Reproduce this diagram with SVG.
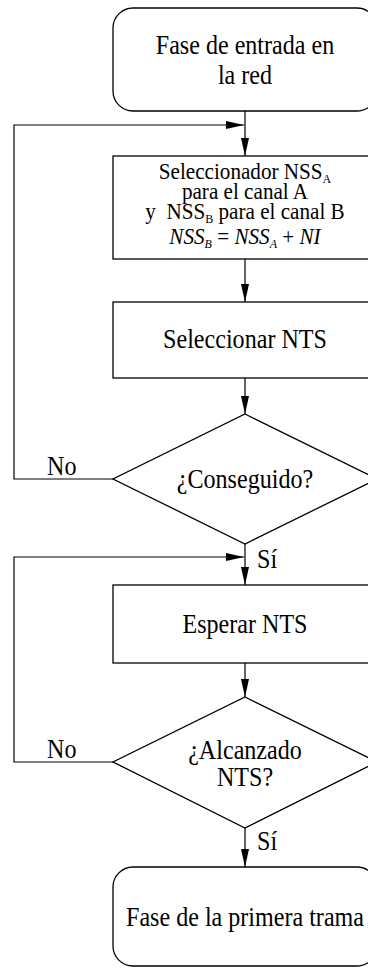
<svg xmlns="http://www.w3.org/2000/svg" width="368" height="968" viewBox="0 0 368 968">
<style>
.shape{fill:#fff;stroke:#000;stroke-width:1.3}
.conn{fill:none;stroke:#000;stroke-width:1.2}
.t{font-family:"Liberation Serif","Times New Roman",serif;font-size:28px;fill:#000;text-anchor:middle}
.s{font-family:"Liberation Serif","Times New Roman",serif;font-size:23px;fill:#000;text-anchor:middle}
.lbl{font-family:"Liberation Serif","Times New Roman",serif;font-size:28px;fill:#000}
.it{font-style:italic}
.sub{font-size:13px}
</style>
<defs>
<marker id="arr" markerUnits="userSpaceOnUse" markerWidth="18" markerHeight="8" refX="18" refY="4" orient="auto">
<path d="M0,0 L18,4 L0,8 z" fill="#000"/>
</marker>
</defs>
<rect width="368" height="968" fill="#fff"/>
<g id="connectors">
<line class="conn" x1="245" y1="111" x2="245" y2="156" marker-end="url(#arr)"/>
<line class="conn" x1="245" y1="259" x2="245" y2="302" marker-end="url(#arr)"/>
<line class="conn" x1="245" y1="378" x2="245" y2="414" marker-end="url(#arr)"/>
<line class="conn" x1="245" y1="544" x2="245" y2="585" marker-end="url(#arr)"/>
<line class="conn" x1="245" y1="663" x2="245" y2="697" marker-end="url(#arr)"/>
<line class="conn" x1="245" y1="828" x2="245" y2="867" marker-end="url(#arr)"/>
<path class="conn" d="M113,479 H14 V125 H244" marker-end="url(#arr)"/>
<path class="conn" d="M113,762 H14 V557 H244" marker-end="url(#arr)"/>
<text class="lbl" transform="translate(47,475) scale(0.86,1)">No</text>
<text class="lbl" transform="translate(47,758) scale(0.86,1)">No</text>
<text class="lbl" transform="translate(257,568) scale(0.86,1)">Sí</text>
<text class="lbl" transform="translate(257,850) scale(0.86,1)">Sí</text>
</g>
<g id="start">
<rect class="shape" x="113" y="8" width="264" height="103" rx="20" ry="20"/>
<text class="t" transform="translate(245,54) scale(0.86,1)">Fase de entrada en</text>
<text class="t" transform="translate(245,84) scale(0.86,1)">la red</text>
</g>
<g id="select-nss">
<rect class="shape" x="113" y="156" width="264" height="103"/>
<text class="s" transform="translate(245,179) scale(0.92,1)">Seleccionador NSS<tspan class="sub" dy="4">A</tspan></text>
<text class="s" transform="translate(245,199) scale(0.92,1)">para el canal A</text>
<text class="s" transform="translate(245,219) scale(0.92,1)">y&#160; NSS<tspan class="sub" dy="4">B</tspan><tspan dy="-4"> para el canal B</tspan></text>
<text class="s" transform="translate(245,244) scale(0.92,1)"><tspan class="it">NSS</tspan><tspan class="it sub" dy="4">B</tspan><tspan dy="-4"> = </tspan><tspan class="it">NSS</tspan><tspan class="it sub" dy="4">A</tspan><tspan dy="-4"> + </tspan><tspan class="it">NI</tspan></text>
</g>
<g id="select-nts">
<rect class="shape" x="113" y="302" width="264" height="76"/>
<text class="t" transform="translate(245,348) scale(0.86,1)">Seleccionar NTS</text>
</g>
<g id="decision-conseguido">
<polygon class="shape" points="245,414 377,479 245,544 113,479"/>
<text class="t" transform="translate(245,488) scale(0.86,1)">¿Conseguido?</text>
</g>
<g id="wait-nts">
<rect class="shape" x="113" y="585" width="264" height="78"/>
<text class="t" transform="translate(245,633) scale(0.86,1)">Esperar NTS</text>
</g>
<g id="decision-alcanzado">
<polygon class="shape" points="245,697 377,762 245,828 113,762"/>
<text class="t" transform="translate(245,759) scale(0.86,1)">¿Alcanzado</text>
<text class="t" transform="translate(245,786) scale(0.86,1)">NTS?</text>
</g>
<g id="end">
<rect class="shape" x="113" y="867" width="264" height="99" rx="20" ry="20"/>
<text class="t" transform="translate(245,926) scale(0.86,1)">Fase de la primera trama</text>
</g>
</svg>
